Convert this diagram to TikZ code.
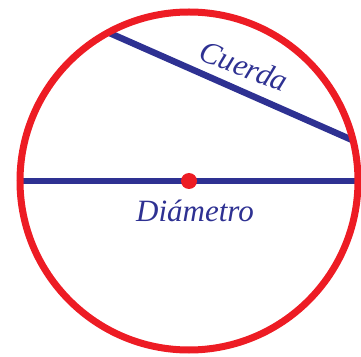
\documentclass[tikz,border=0pt]{standalone}
\usetikzlibrary{calc}
\usepackage{fontspec}
\setmainfont{Liberation Serif}
\definecolor{cred}{RGB}{237,28,36}
\definecolor{cblue}{RGB}{46,49,146}
\begin{document}
\begin{tikzpicture}[x=1pt,y=1pt,
  lbl/.style={text=cblue,font=\fontsize{31}{31}\selectfont\itshape,inner sep=0pt},
  seg/.style={draw=cblue,line width=6.5pt}]
\useasboundingbox (0,0) rectangle (361,356);
\coordinate (c) at (189,175);
\coordinate (A) at ($(c)+(118.5:169)$);
\coordinate (B) at ($(c)+(13.9:169)$);
\coordinate (L) at ($(c)+(180:168)$);
\coordinate (R) at ($(c)+(0:169)$);
\draw[seg] (A) -- (B);
\draw[seg] (L) -- (R);
\draw[cred,line width=7pt] (c) circle[radius=169];
\fill[cred] (c) circle[radius=8];
\node[lbl,rotate=-21] (cuerda) at (244,290) {Cuerda};
\node[lbl] (diam) at (195,145) {Diámetro};
\end{tikzpicture}
\end{document}
